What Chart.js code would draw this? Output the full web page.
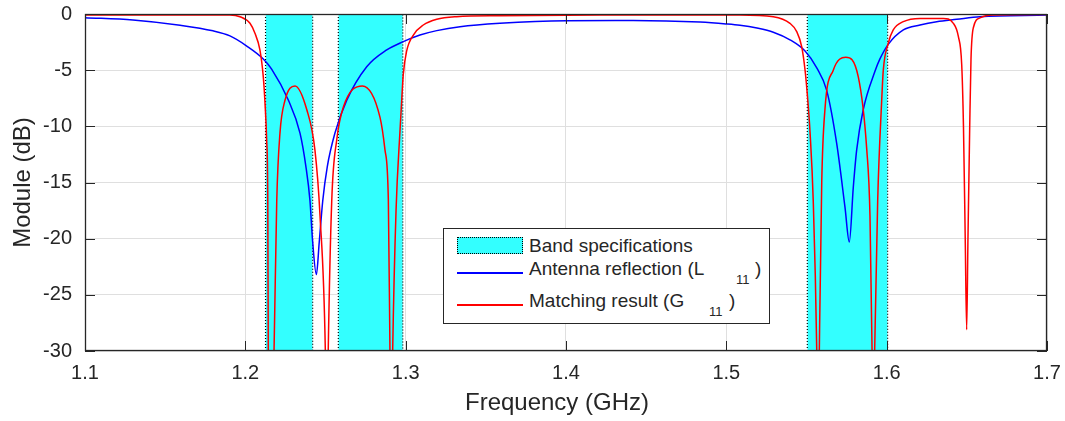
<!DOCTYPE html>
<html>
<head>
<meta charset="utf-8">
<script src="https://cdn.jsdelivr.net/npm/chart.js@4/dist/chart.umd.min.js"></script>
<style>
  html, body { margin: 0; padding: 0; background: #fff; }
  #wrap { position: relative; width: 1065px; height: 421px; font-family: "Liberation Sans", Arial, Helvetica, sans-serif; color: #262626; }
  #wrap canvas { position: absolute; left: 0; top: 0; }
  .lg { position: absolute; white-space: nowrap; line-height: 1; }
  .t19 { font-size: 19px; }
  .t13 { font-size: 13px; }
  #xtitle { position: absolute; left: 557px; top: 390px; transform: translateX(-50%); font-size: 24px; line-height: 1; white-space: nowrap; }
</style>
</head>
<body>
<div id="wrap">
  <canvas id="chart" width="1065" height="421"></canvas>
  <div id="xtitle"></div>
  <div id="legend"></div>
</div>
<script>
// Axis ticks
const xTicks = [1.1, 1.2, 1.3, 1.4, 1.5, 1.6, 1.7];
const yTicks = [0, -5, -10, -15, -20, -25, -30];
const xTitle = "Frequency (GHz)";
const yTitle = "Module (dB)";

// Band specifications (GHz)
const bandStart = [1.2126, 1.2580, 1.5505];
const bandEnd = [1.2420, 1.2982, 1.6006];

// Antenna reflection L11
const antFreq = [1.1000, 1.1299, 1.1593, 1.1798, 1.1904, 1.2009, 1.2112, 1.2164, 1.2268, 1.2341,
  1.2378, 1.2403, 1.2420, 1.2443, 1.2461, 1.2483, 1.2511, 1.2559, 1.2632, 1.2757,
  1.2882, 1.2985, 1.3089, 1.3194, 1.3339, 1.3588, 1.4004, 1.4418, 1.4836, 1.4998,
  1.5085, 1.5191, 1.5293, 1.5397, 1.5491, 1.5564, 1.5626, 1.5688, 1.5740, 1.5767,
  1.5792, 1.5813, 1.5854, 1.5927, 1.5958, 1.6010, 1.6104, 1.6208, 1.6312, 1.6437,
  1.6582, 1.7000];
const antDb = [-0.33, -0.53, -1.0, -1.5, -1.95, -2.85, -4.0, -4.9, -7.66, -10.6,
  -13.6, -16.6, -20.3, -23.2, -20.3, -16.6, -13.6, -10.6, -7.7, -4.7,
  -3.2, -2.46, -1.87, -1.48, -1.13, -0.83, -0.6, -0.58, -0.72, -0.88,
  -1.0, -1.25, -1.62, -2.3, -3.3, -4.8, -6.8, -11.5, -17.2, -20.3,
  -15.4, -12.1, -8.5, -5.1, -4.0, -2.7, -1.42, -0.98, -0.68, -0.47,
  -0.24, -0.1];

// Matching result G11 (dips below -30 are clipped by the axis)
const matchFreq = [1.1000, 1.1593, 1.1904, 1.1967, 1.2029, 1.2060, 1.2091, 1.2112, 1.2123, 1.2133,
  1.2140, 1.2143, 1.2161, 1.2179, 1.2196, 1.2216, 1.2247, 1.2310, 1.2383, 1.2434,
  1.2466, 1.2499, 1.2508, 1.2517, 1.2539, 1.2570, 1.2611, 1.2730, 1.2840, 1.2871,
  1.2892, 1.2902, 1.2910, 1.2919, 1.2940, 1.2965, 1.2976, 1.2985, 1.3006, 1.3048,
  1.3110, 1.3194, 1.3318, 1.3588, 1.4212, 1.4836, 1.5085, 1.5293, 1.5397, 1.5439,
  1.5470, 1.5491, 1.5507, 1.5522, 1.5542, 1.5564, 1.5572, 1.5580, 1.5595, 1.5615,
  1.5667, 1.5745, 1.5823, 1.5876, 1.5896, 1.5909, 1.5917, 1.5925, 1.5944, 1.5969,
  1.5979, 1.6010, 1.6041, 1.6104, 1.6208, 1.6353, 1.6416, 1.6447, 1.6468, 1.6479,
  1.6490, 1.6499, 1.6507, 1.6518, 1.6526, 1.6541, 1.6582, 1.6663, 1.7000];
const matchDb = [-0.1, -0.1, -0.09, -0.24, -0.83, -1.72, -3.2, -5.6, -8, -11.2,
  -16.6, -30, -40, -30, -16.6, -10.6, -7.7, -6.4, -8.5, -12.1,
  -18, -30, -40, -30, -16.6, -11.2, -8.3, -6.4, -9.2, -12.1,
  -16.6, -30, -40, -30, -17.5, -10.3, -7.5, -5.4, -3.3, -1.87,
  -0.98, -0.47, -0.24, -0.15, -0.1, -0.1, -0.09, -0.24, -0.83, -1.57,
  -2.9, -5.0, -7.5, -10.5, -16.6, -30, -40, -30, -15, -8.5,
  -5, -3.86, -5.6, -12.1, -18, -30, -40, -30, -16.6, -7.7,
  -5.0, -2.6, -1.42, -0.68, -0.39, -0.39, -0.83, -2.0, -4.5, -10,
  -20, -28.1, -20, -10, -4, -1.2, -0.35, -0.1, -0.05];

const labels = ["Band specifications", "Antenna reflection (L", "Matching result (G"];

Chart.defaults.font.family = '"Liberation Sans", Arial, Helvetica, sans-serif';
Chart.defaults.color = "#262626";

const toPoints = (xs, ys) => xs.map((v, i) => ({ x: v, y: ys[i] }));

// one closed outline per band, filled down to the axis floor
const bandSets = bandStart.map((s, i) => ({
  label: labels[0],
  data: [{ x: s, y: yTicks[6] }, { x: s, y: yTicks[0] }, { x: bandEnd[i], y: yTicks[0] }, { x: bandEnd[i], y: yTicks[6] }],
  borderColor: "#000",
  borderWidth: 1.2,
  borderDash: [1, 2],
  backgroundColor: "#33ffff",
  fill: { value: yTicks[6] },
  tension: 0,
  order: 3,
}));

// frame + inward tick marks, drawn on top of the data
const frame = {
  id: "frame",
  afterDatasetsDraw(chart) {
    const { ctx, chartArea: a, scales: { x, y } } = chart;
    ctx.save();
    ctx.strokeStyle = "#262626";
    ctx.lineWidth = 1;
    ctx.beginPath();
    xTicks.forEach((v) => {
      const px = Math.round(x.getPixelForValue(v)) + 0.5;
      ctx.moveTo(px, a.bottom); ctx.lineTo(px, a.bottom - 10);
      ctx.moveTo(px, a.top); ctx.lineTo(px, a.top + 10);
    });
    yTicks.forEach((v) => {
      const py = Math.round(y.getPixelForValue(v)) + 0.5;
      ctx.moveTo(a.left, py); ctx.lineTo(a.left + 10, py);
      ctx.moveTo(a.right, py); ctx.lineTo(a.right - 10, py);
    });
    ctx.stroke();
    ctx.lineWidth = 1.3;
    ctx.strokeRect(a.left + 0.5, a.top + 0.5, a.width - 1, a.height - 1);
    ctx.restore();
  },
};

const chart = new Chart(document.getElementById("chart"), {
  type: "line",
  data: {
    datasets: [
      {
        label: labels[2],
        data: toPoints(matchFreq, matchDb),
        borderColor: "#ff0000",
        borderWidth: 1.5,
        cubicInterpolationMode: "monotone",
        order: 1,
      },
      {
        label: labels[1],
        data: toPoints(antFreq, antDb),
        borderColor: "#0000ff",
        borderWidth: 1.5,
        cubicInterpolationMode: "monotone",
        order: 2,
      },
      ...bandSets,
    ],
  },
  options: {
    responsive: false,
    animation: false,
    layout: { padding: { left: 0, right: 18, top: 14, bottom: 0 } },
    elements: { point: { radius: 0 } },
    datasets: { line: { clip: 0 } },
    plugins: {
      legend: { display: false },
      tooltip: { enabled: false },
    },
    scales: {
      x: {
        type: "linear",
        min: 1.1,
        max: 1.7,
        afterBuildTicks: (s) => { s.ticks = xTicks.map((v) => ({ value: v })); },
        afterFit: (s) => { s.height = 70; s.paddingLeft = 0; s.paddingRight = 0; },
        ticks: {
          font: { size: 20 },
          padding: 10,
          maxRotation: 0,
          callback: (v) => v.toFixed(1),
        },
        grid: { color: "#dfdfdf", drawTicks: false },
        border: { display: false },
        // drawn as an html label below (MATLAB puts it a bit left of centre)
        title: { display: false },
      },
      y: {
        min: -30,
        max: 0,
        afterBuildTicks: (s) => { s.ticks = yTicks.map((v) => ({ value: v })); },
        afterFit: (s) => { s.width = 85; s.paddingTop = 0; s.paddingBottom = 0; },
        ticks: {
          font: { size: 20 },
          padding: 13,
          callback: (v) => String(v),
        },
        grid: { color: "#dfdfdf", drawTicks: false },
        border: { display: false },
        title: {
          display: true,
          text: yTitle,
          font: { size: 24 },
          padding: { top: 9, bottom: 0 },
        },
      },
    },
  },
  plugins: [frame],
});

document.getElementById("xtitle").textContent = xTitle;

// legend inside the plot, MATLAB style
const ds = chart.data.datasets;
const legend = document.getElementById("legend");
legend.innerHTML = `
  <div style="position:absolute;left:443px;top:228px;width:325px;height:94px;border:1px solid #262626;background:#fff"></div>
  <div style="position:absolute;left:457px;top:237px;width:64px;height:15px;background:${ds[2].backgroundColor};border:1px dotted #000"></div>
  <div class="lg t19" style="left:529px;top:235.6px">${ds[2].label}</div>
  <div style="position:absolute;left:457px;top:272px;width:66px;height:2px;background:${ds[1].borderColor}"></div>
  <div class="lg t19" style="left:529px;top:259px">${ds[1].label}</div>
  <div class="lg t13" style="left:736px;top:273.3px">11</div>
  <div class="lg t19" style="left:755px;top:259px">)</div>
  <div style="position:absolute;left:457px;top:304px;width:66px;height:2px;background:${ds[0].borderColor}"></div>
  <div class="lg t19" style="left:529px;top:290.6px">${ds[0].label}</div>
  <div class="lg t13" style="left:709px;top:304.7px">11</div>
  <div class="lg t19" style="left:729px;top:290.6px">)</div>
`;
</script>
</body>
</html>
